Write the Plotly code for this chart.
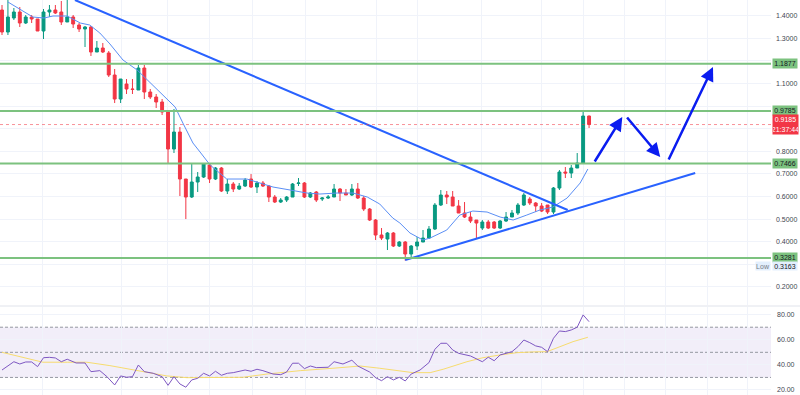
import plotly.graph_objects as go

# ---------------- data ----------------
bar_index = list(range(1, 101))
open_ = [1.4253,1.3279,1.3899,1.4164,1.3677,1.3943,1.3854,1.3323,1.4164,1.4253,
1.4164,1.3722,1.3943,1.3589,1.3412,1.3500,1.2394,1.2571,1.2350,1.1376,
1.0314,1.0978,1.0757,1.0713,1.1686,1.0624,1.0403,1.0182,0.9739,0.8102,
0.8854,0.6775,0.5978,0.6642,0.6863,0.7394,0.6775,0.7261,0.6244,0.6553,
0.6332,0.6465,0.6775,0.6421,0.6598,0.6465,0.5978,0.5757,0.5845,0.5978,
0.6575,0.6598,0.5978,0.6199,0.5890,0.5934,0.5978,0.6332,0.6155,0.6067,
0.6332,0.5934,0.5447,0.4960,0.4297,0.4120,0.4385,0.3810,0.3987,0.3456,
0.3810,0.3987,0.4164,0.4562,0.5624,0.6067,0.5978,0.5580,0.5270,0.5093,
0.4960,0.4606,0.4872,0.4872,0.4606,0.4916,0.5093,0.5270,0.5624,0.5890,
0.5713,0.5580,0.5624,0.5314,0.6376,0.7084,0.7040,0.7261,0.7483,0.9562]
high = [1.4474,1.4800,1.4341,1.4385,1.4031,1.4031,1.3854,1.4297,1.4474,1.4474,
1.4651,1.4900,1.4031,1.3677,1.3545,1.3545,1.2881,1.2792,1.2438,1.1642,
1.1199,1.1199,1.1199,1.1819,1.1819,1.0757,1.0536,1.0314,0.9780,0.9872,
0.9075,0.6775,0.7483,0.7084,0.7483,0.7483,0.7306,0.7306,0.6775,0.6642,
0.6598,0.6819,0.6996,0.6686,0.6686,0.6509,0.6067,0.5934,0.6022,0.6598,
0.6819,0.6642,0.6199,0.6244,0.5978,0.6067,0.6553,0.6376,0.6332,0.6553,
0.6598,0.6022,0.5491,0.5004,0.4606,0.4429,0.4429,0.4031,0.4031,0.3854,
0.4208,0.4518,0.4695,0.5713,0.6288,0.6244,0.6244,0.5845,0.5757,0.5314,
0.4960,0.4960,0.4960,0.4916,0.4960,0.5314,0.5403,0.5713,0.6155,0.5978,
0.5757,0.5713,0.5624,0.6421,0.7173,0.7306,0.7394,0.7925,0.9828,0.9580]
low = [1.3146,1.3146,1.3810,1.3500,1.3633,1.3677,1.3323,1.2969,1.3943,1.4076,
1.3589,1.3722,1.3456,1.3279,1.2615,1.2217,1.2394,1.2350,1.1288,1.0137,
1.0137,1.0536,1.0536,1.0713,1.0314,1.0314,0.9916,0.9606,0.7483,0.7925,
0.6022,0.5004,0.5934,0.6199,0.6819,0.6598,0.6730,0.6199,0.6111,0.6199,
0.6288,0.6421,0.6376,0.6155,0.6421,0.5757,0.5713,0.5713,0.5757,0.5978,
0.6465,0.5934,0.5934,0.5757,0.5801,0.5890,0.5978,0.5801,0.6067,0.6022,
0.5890,0.5358,0.4916,0.4075,0.4075,0.3633,0.3766,0.3766,0.3163,0.3323,
0.3633,0.3987,0.4120,0.4518,0.5580,0.5668,0.5580,0.5270,0.5049,0.4827,
0.4164,0.4518,0.4562,0.4562,0.4562,0.4872,0.5093,0.5181,0.5580,0.5624,
0.5314,0.5314,0.5226,0.5226,0.6288,0.6819,0.6819,0.7261,0.7483,0.9031]
close = [1.3279,1.3943,1.4164,1.3677,1.3943,1.3854,1.3323,1.4164,1.4253,1.4120,
1.3722,1.3943,1.3633,1.3412,1.3500,1.2394,1.2571,1.2394,1.1376,1.0314,
1.1199,1.0757,1.0740,1.1686,1.0624,1.0403,1.0182,0.9739,0.8102,0.8854,
0.6775,0.5978,0.6642,0.6863,0.7438,0.6775,0.7261,0.6244,0.6553,0.6332,
0.6465,0.6730,0.6421,0.6598,0.6465,0.5978,0.5757,0.5845,0.5978,0.6553,
0.6598,0.5978,0.6155,0.5845,0.5934,0.5978,0.6332,0.6155,0.6067,0.6332,
0.5934,0.5447,0.4960,0.4297,0.4164,0.4385,0.3810,0.3987,0.3456,0.3810,
0.3987,0.4164,0.4562,0.5624,0.6067,0.5978,0.5580,0.5270,0.5093,0.4916,
0.4827,0.4872,0.4606,0.4606,0.4916,0.5093,0.5270,0.5624,0.6067,0.5713,
0.5580,0.5358,0.5314,0.6376,0.7084,0.7040,0.7261,0.7483,0.9562,0.9185]

ma_idx = [2.0,6.2,8.1,9.6,12.0,14.2,15.8,17.5,19.2,21.4,23.8,26.0,28.2,30.2,31.5,33.2,34.4,36.1,
          38.9,42.3,44.5,46.7,49.6,52.4,54.6,57.5,60.2,62.6,64.7,66.9,68.1,69.8,72.0,73.2,76.0,
          78.2,80.4,82.8,85.0,87.2,89.5,91.7,93.9,96.3,98.5,99.8]
ma_val = [1.4606,1.3942,1.3898,1.3987,1.3987,1.3677,1.3588,1.3235,1.2750,1.2040,1.1597,1.1022,
          1.0491,0.9960,0.9252,0.8367,0.7969,0.7394,0.6774,0.6774,0.6597,0.6420,0.6288,0.6155,
          0.6111,0.6155,0.6155,0.5978,0.5668,0.5049,0.4827,0.4385,0.4075,0.4164,0.4518,0.5181,
          0.5358,0.5314,0.5093,0.4960,0.5181,0.5402,0.5535,0.5934,0.6597,0.7217]

rsi_idx = [1,3,4,5,6,7,8,9,10,11,12,13.5,15,16,17.5,18.7,20,21,22,23,24,25,26.5,28,29,30,31,32,
           33,34,35,36,37,38,39,40,42,43,44,45,46.7,48,49,50,51,52,53,54,56,57,58.5,60,61,63,64,
           65,66,67,68,69,70,71.5,73,74,75,76,77,78,80,82,83,84,85,87,88,89,90,91,92,93,94,95,
           96,97,98,99,100]
rsi_val = [35.9,42.5,40.7,42.3,42.3,38.6,45.7,46.0,45.5,42.5,44.5,41.5,41.5,34.6,35.4,30.6,24.0,
           31.2,30.1,30.6,39.9,34.6,33.3,30.6,23.7,30.6,24.8,22.2,28.0,29.3,33.3,31.2,34.9,31.7,
           33.3,33.8,35.9,34.9,36.5,35.4,32.7,32.2,34.3,41.3,41.3,37.0,39.1,37.8,38.1,42.5,40.7,
           43.7,39.1,34.3,29.8,27.4,30.6,28.0,30.1,27.2,32.7,35.9,41.8,52.4,57.2,57.2,51.9,49.2,
           47.1,42.5,46.1,43.3,47.9,50.5,54.5,59.8,57.7,55.1,54.0,50.5,61.2,67.0,66.5,67.8,70.0,
           79.8,74.4]
rsima_idx = [1,3.5,7.9,12,15.3,19.2,23.1,28.8,32.2,37.3,41.6,45.7,51.3,56.8,61.4,64.7,68.1,70.3,
             73.2,75.4,79.4,82.1,85,87.8,90.5,92.9,95.1,97.3,99.8]
rsima_val = [50.0,47.1,42.1,42.1,42.1,39.4,35.9,31.2,29.8,29.8,30.1,32.7,35.4,37.3,39.1,37.3,35.4,
             33.8,33.8,36.5,42.5,45.7,47.9,49.7,50.3,50.5,54.5,58.5,62.0]

levels = [1.1877, 0.9785, 0.7466, 0.3281]
last_price = 0.9185
countdown = "21:37:44"
low_price = 0.3163

trend1_x = [13.3, 96.4]
trend1_y = [1.4695, 0.5403]
trend2_x = [69.0, 117.9]
trend2_y = [0.3191, 0.7040]

arrow_tail_x = [100.8, 106.2, 113.3]
arrow_tail_y = [0.7483, 0.9562, 0.7571]
arrow_head_x = [105.6, 112.0, 120.9]
arrow_head_y = [0.9518, 0.7748, 1.1730]

price_ticks = [0.2, 0.3, 0.4, 0.5, 0.6, 0.7, 0.8, 0.9, 1.0, 1.1, 1.2, 1.3, 1.4]
hidden_ticks = [0.3, 0.9, 1.0, 1.2]   # covered by the price labels in the reference
rsi_ticks = [20, 40, 60, 80]
time_grid = [7.91, 21.07, 28.99, 35.91, 43.16, 52.10, 64.07, 71.0, 81.94, 92.06, 98.98,
             105.89, 112.97, 119.89, 126.8]

# ---------------- figure ----------------
GREEN = "#089981"
RED = "#f23645"
FONT = "Liberation Sans"

fig = go.Figure()
fig.add_trace(go.Candlestick(
    x=bar_index, open=open_, high=high, low=low, close=close,
    increasing=dict(line=dict(color=GREEN, width=1), fillcolor=GREEN),
    decreasing=dict(line=dict(color=RED, width=1), fillcolor=RED),
    xaxis="x", yaxis="y", showlegend=False, hoverinfo="skip"))
fig.add_trace(go.Scatter(x=ma_idx, y=ma_val, mode="lines",
    line=dict(color="#5b8ff5", width=1), xaxis="x", yaxis="y", showlegend=False))
fig.add_trace(go.Scatter(x=trend1_x, y=trend1_y, mode="lines",
    line=dict(color="#2962ff", width=2), xaxis="x", yaxis="y", showlegend=False))
fig.add_trace(go.Scatter(x=trend2_x, y=trend2_y, mode="lines",
    line=dict(color="#2962ff", width=2), xaxis="x", yaxis="y", showlegend=False))
fig.add_trace(go.Scatter(x=rsima_idx, y=rsima_val, mode="lines",
    line=dict(color="#f7dc6f", width=1), xaxis="x2", yaxis="y2", showlegend=False))
fig.add_trace(go.Scatter(x=rsi_idx, y=rsi_val, mode="lines",
    line=dict(color="#7e57c2", width=1), xaxis="x2", yaxis="y2", showlegend=False))

shapes = []
shapes.append(dict(type="rect", xref="paper", yref="y2", x0=0, x1=1, y0=30, y1=70,
                   fillcolor="rgba(126,87,194,0.10)", line=dict(width=0), layer="below"))
for lv in [70, 50, 30]:
    shapes.append(dict(type="line", xref="paper", yref="y2", x0=0, x1=1, y0=lv, y1=lv,
                       line=dict(color="#9598a1", width=1, dash="3px,2px"), layer="below"))
shapes.append(dict(type="line", xref="paper", yref="paper", x0=0, x1=1.04, y0=0.2253, y1=0.2253,
                   line=dict(color="#e0e3eb", width=1)))
shapes.append(dict(type="line", xref="paper", yref="y", x0=0, x1=1, y0=last_price, y1=last_price,
                   line=dict(color="rgba(242,54,69,0.55)", width=1, dash="dot")))
for lv in levels:
    shapes.append(dict(type="line", xref="paper", yref="y", x0=0, x1=1, y0=lv, y1=lv,
                       line=dict(color="#7cc27f", width=2)))

annotations = []
for lv in levels:
    annotations.append(dict(x=1, xref="paper", xanchor="left", xshift=1, y=lv, yref="y",
                            text=f"{lv:.4f}", showarrow=False, bgcolor="#7cc27f",
                            font=dict(family=FONT, size=7, color="#131722"),
                            width=24, height=9, borderpad=0))
annotations.append(dict(x=1, xref="paper", xanchor="left", xshift=1, y=last_price, yref="y",
                        text=f"{last_price:.4f}<br>{countdown}", showarrow=False, bgcolor=RED,
                        font=dict(family=FONT, size=7, color="white"),
                        width=25, height=19, borderpad=0))
annotations.append(dict(x=1, xref="paper", xanchor="right", y=low_price, yref="y", yshift=-5,
                        text="Low", showarrow=False, bgcolor="#e3effd",
                        font=dict(family=FONT, size=7, color="#787b86"),
                        width=14, height=8, borderpad=0))
annotations.append(dict(x=1, xref="paper", xanchor="left", xshift=1, y=low_price, yref="y", yshift=-5,
                        text=f"{low_price:.4f}", showarrow=False, bgcolor="#e3effd",
                        font=dict(family=FONT, size=7, color="#131722"),
                        width=24, height=8, borderpad=0))
for tx, ty, hx, hy in zip(arrow_tail_x, arrow_tail_y, arrow_head_x, arrow_head_y):
    annotations.append(dict(x=hx, y=hy, xref="x", yref="y", ax=tx, ay=ty, axref="x", ayref="y",
                            text="", showarrow=True, arrowhead=2, arrowsize=1.1, arrowwidth=2.5,
                            arrowcolor="#0a1cf0", standoff=0, startstandoff=0))

ticktext = ["" if t in hidden_ticks else f"{t:.4f}" for t in price_ticks]

fig.update_layout(
    width=800, height=395,
    margin=dict(l=0, r=29, t=0, b=0, autoexpand=False),
    paper_bgcolor="white", plot_bgcolor="white",
    showlegend=False,
    font=dict(family=FONT, size=7, color="#434651"),
    shapes=shapes, annotations=annotations,
    xaxis=dict(domain=[0, 1], range=[0.663, 130.68], anchor="y",
               rangeslider=dict(visible=False), showticklabels=False,
               tickvals=time_grid, showgrid=True, gridcolor="#f0f3fa", gridwidth=1,
               zeroline=False, showline=False, ticks=""),
    yaxis=dict(domain=[0.2278, 1], range=[0.12, 1.4695], anchor="x", side="right",
               tickvals=price_ticks, ticktext=ticktext, showgrid=True, gridcolor="#f0f3fa",
               zeroline=False, showline=False, ticks="", ticklabelstandoff=4,
               tickfont=dict(family=FONT, size=7, color="#434651")),
    xaxis2=dict(domain=[0, 1], range=[0.663, 130.68], anchor="y2", matches="x",
                showticklabels=False, tickvals=time_grid, showgrid=True, gridcolor="#f0f3fa",
                zeroline=False, showline=False, ticks=""),
    yaxis2=dict(domain=[0, 0.2228], range=[16.0, 86.1], anchor="x2", side="right",
                tickvals=rsi_ticks, ticktext=[f"{t:.2f}" for t in rsi_ticks],
                showgrid=True, gridcolor="#f0f3fa", zeroline=False, showline=False,
                ticks="", ticklabelstandoff=5,
                tickfont=dict(family=FONT, size=7, color="#434651")),
)

fig.write_html("out.html", config={"displayModeBar": False},
               post_script="document.body.style.margin='0px';document.body.style.padding='0px';")
